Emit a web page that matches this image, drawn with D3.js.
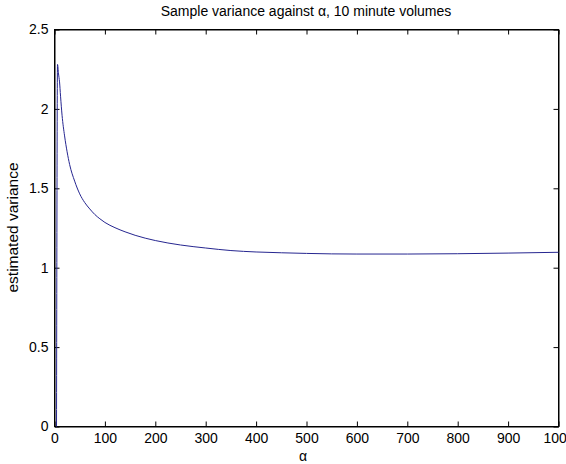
<!DOCTYPE html>
<html>
<head>
<meta charset="utf-8">
<script src="https://cdn.jsdelivr.net/npm/d3@7"></script>
<style>
  body { margin: 0; background: #fff; }
  svg { display: block; }
  text { font-family: "Liberation Sans", Arial, sans-serif; fill: #000; }
  .axis path, .axis line { stroke: #000; }
</style>
</head>
<body>
<div id="chartContainer"></div>
<script>
// alpha values and the sample variance
const alpha = [4, 6, 8, 10, 12, 15, 20, 25, 30, 40, 50, 60, 70, 80, 90, 100, 120, 140, 160,
               180, 200, 250, 300, 350, 400, 450, 500, 550, 600, 700, 800, 900, 1000];
const variance = [0, 2.28, 2.22, 2.17, 2.08, 1.96, 1.83, 1.73, 1.65, 1.545, 1.465, 1.41,
                  1.37, 1.335, 1.308, 1.285, 1.252, 1.226, 1.204, 1.186, 1.171, 1.143, 1.124,
                  1.108, 1.099, 1.094, 1.09, 1.087, 1.086, 1.086, 1.088, 1.092, 1.097];
const xTicks = [0, 100, 200, 300, 400, 500, 600, 700, 800, 900, 1000];
const yTicks = [0, 0.5, 1, 1.5, 2, 2.5];

const width = 566, height = 464;
const margin = { top: 29, right: 8, bottom: 38, left: 54 };
const plotW = width - margin.left - margin.right;
const plotH = height - margin.top - margin.bottom;

const data = alpha.map((a, i) => ({ a: a, v: variance[i] }));

const svg = d3.select("#chartContainer")
  .append("svg")
  .attr("width", width)
  .attr("height", height);

const xScale = d3.scaleLinear().domain([0, 1000]).range([0, plotW]);
const yScale = d3.scaleLinear().domain([0, 2.5]).range([plotH, 0]);

const g = svg.append("g")
  .attr("transform", `translate(${margin.left + 0.5}, ${margin.top + 0.5})`);

// box
g.append("rect")
  .attr("width", plotW)
  .attr("height", plotH)
  .attr("fill", "#fff")
  .attr("stroke", "#000");

g.append("g")
  .attr("class", "axis")
  .attr("transform", `translate(0, ${plotH})`)
  .call(d3.axisBottom(xScale).tickValues(xTicks).tickFormat(d3.format("d"))
    .tickSizeInner(-5).tickSizeOuter(0).tickPadding(7))
  .call(s => s.selectAll("text").style("font-size", "14px"));

g.append("g")
  .attr("class", "axis")
  .call(d3.axisTop(xScale).tickValues(xTicks).tickFormat("")
    .tickSizeInner(-5).tickSizeOuter(0));

g.append("g")
  .attr("class", "axis")
  .call(d3.axisLeft(yScale).tickValues(yTicks).tickFormat(d3.format("~g"))
    .tickSizeInner(-5).tickSizeOuter(0).tickPadding(6))
  .call(s => s.selectAll("text").style("font-size", "14px"));

g.append("g")
  .attr("class", "axis")
  .attr("transform", `translate(${plotW}, 0)`)
  .call(d3.axisRight(yScale).tickValues(yTicks).tickFormat("")
    .tickSizeInner(-5).tickSizeOuter(0));

// curve
const line = d3.line()
  .x(d => xScale(d.a))
  .y(d => yScale(d.v))
  .curve(d3.curveMonotoneX);

g.append("path")
  .datum(data)
  .attr("fill", "none")
  .attr("stroke", "#262690")
  .attr("stroke-width", 1)
  .attr("d", line);

// labels
svg.append("text")
  .attr("text-anchor", "middle")
  .attr("x", margin.left + plotW / 2)
  .attr("y", 16)
  .style("font-size", "14px")
  .text("Sample variance against α, 10 minute volumes");

svg.append("text")
  .attr("text-anchor", "middle")
  .attr("x", margin.left + plotW / 2 - 3)
  .attr("y", 461)
  .style("font-size", "14px")
  .text("α");

svg.append("text")
  .attr("text-anchor", "middle")
  .attr("transform", `translate(18, ${margin.top + plotH / 2}) rotate(-90)`)
  .style("font-size", "15.5px")
  .text("estimated variance");
</script>
</body>
</html>
